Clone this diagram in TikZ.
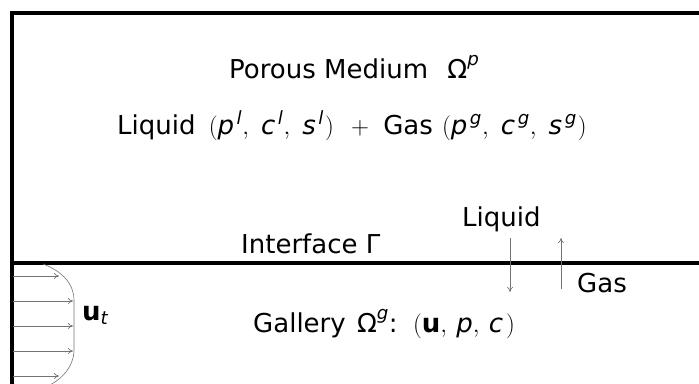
\documentclass[tikz,border=0pt]{standalone}
\usepackage{amstext}
\usepackage{fontspec}
\setmainfont{DejaVu Sans}
\usetikzlibrary{arrows.meta}
\newcommand\mv[1]{\textit{#1}}
% a field with its phase index, as in p^l
\newcommand\fld[2]{\mv{#1}^{\hspace{2.5pt}\mv{#2}}}
\newcommand\sep{,\hspace{8pt}}

\begin{document}
\begin{tikzpicture}[
  x=1pt,y=-1pt,
  font=\fontsize{26}{31}\selectfont,
  >={To[length=5pt,width=6pt]},
  wall/.style={line width=3.2pt},
  vel/.style={->,draw=black!55,line width=0.7pt},
  flux/.style={->,draw=black!55,line width=0.7pt},
  lbl/.style={inner sep=0pt,anchor=base west},
]
\useasboundingbox (0,0) rectangle (699,383);
\clip (0,0) rectangle (699,383);

% domain walls and the interface
\draw[wall] (12,400) -- (12,13) -- (720,13);
\draw[wall] (12,263) -- (720,263);

% porous medium
\node[lbl] (porous) at (229,78)
     {Porous Medium\hspace{11pt} $\text{Ω}^{\mv{p}}$};
\node[lbl] (phases) at (117,134)
     {Liquid\hspace{5pt} $(\fld{p}{l}\sep\fld{c}{l}\sep\fld{s}{l}\hspace{1pt})$%
      \hspace{9pt} $+$\hspace{6pt} Gas\hspace{1pt}
      $(\fld{p}{g}\sep\fld{c}{g}\sep\fld{s}{g}\hspace{1pt})$};

% interface and exchange fluxes
\node[lbl] (iface) at (241,253) {Interface Γ};
\node[lbl] (liq) at (462,226) {Liquid};
\node[lbl] (gas) at (577,292) {Gas};
\coordinate (liqtop) at (510,238);
\coordinate (liqbot) at (510,292);
\coordinate (gasbot) at (561,289);
\coordinate (gastop) at (561,238);
\draw[flux] (liqtop) -- (liqbot);
\draw[flux] (gasbot) -- (gastop);

% gallery
\node[lbl] (gallery) at (253,332)
     {Gallery\hspace{3pt} $\text{Ω}^{\mv{g}}$: \,$(\textbf{u},\hspace{5pt}\mv{p},\hspace{5pt}\mv{c}\hspace{3pt})$};

% velocity profile at the inlet
\draw[draw=black!55,line width=0.6pt] (43,264)
     .. controls (62,271) and (74,284) .. (74,300) -- (74,350)
     .. controls (74,366) and (62,381) .. (43,388);
\foreach \yy/\xx in {276/59,301/73,326/73,351/73,376/59}
  \draw[vel] (13,\yy) -- (\xx,\yy);
\node[lbl] (ut) at (82,320) {$\textbf{u}_{\mv{t}}$};

\end{tikzpicture}
\end{document}
